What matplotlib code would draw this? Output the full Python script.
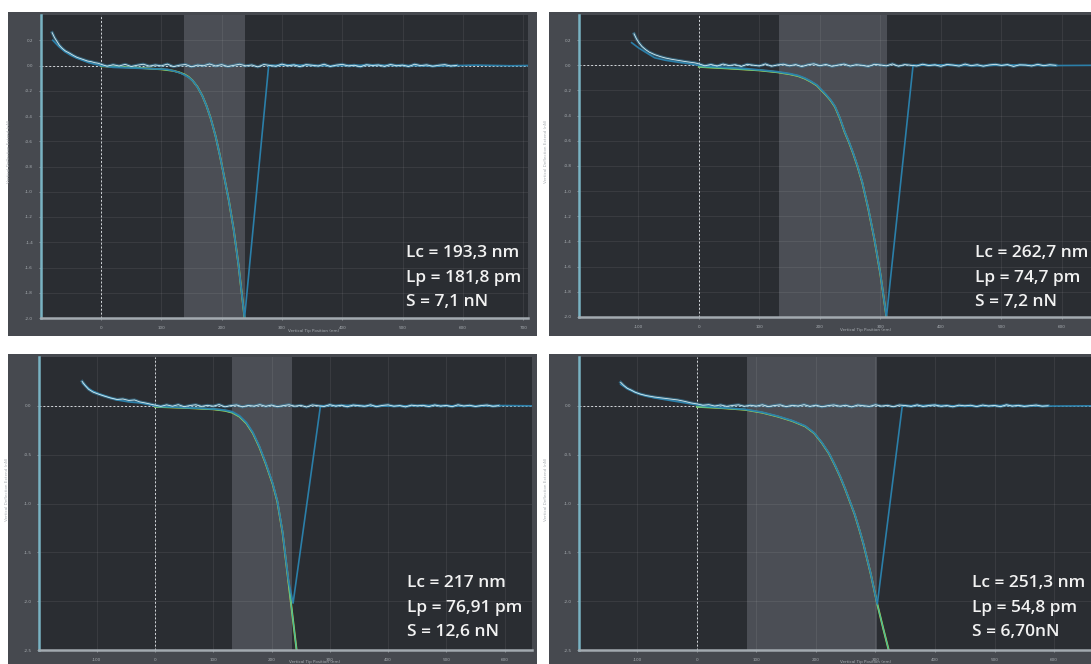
import numpy as np
import matplotlib.pyplot as plt
from matplotlib.patches import Rectangle

# 图像尺寸 (像素)
W, H = 1091, 664

# ---------------- 数据 ----------------
# 左上
app1_x = [-81, -77, -73, -69, -64, -59, -53, -46, -40, -34, -28, -22, -16, -10, -5] + list(range(0, 600, 10))
app1_y = [0.26, 0.22, 0.19, 0.16, 0.135, 0.115, 0.10, 0.08, 0.065, 0.055, 0.045, 0.035, 0.03, 0.022, 0.018,
          0.010, -0.006, 0.006, -0.004, 0.009, -0.008, 0.002, 0.010, -0.005, 0.004,
          -0.003, 0.011, -0.009, 0.002, 0.008, -0.010, 0.003, -0.002, 0.012, -0.004,
          0.007, -0.008, 0.001, 0.010, -0.003, 0.004, -0.011, 0.008, 0.000, -0.006,
          0.011, -0.002, 0.005, -0.009, 0.007, 0.002, -0.004, 0.010, -0.008, 0.003,
          0.009, -0.003, 0.002, -0.010, 0.006, 0.000, 0.004, -0.007, 0.008, -0.002,
          0.003, -0.008, 0.010, -0.001, 0.005, -0.006, 0.002, 0.007, -0.004, 0.001]
ret1_x = [-80, -70, -60, -50, -40, -30, -20, -10, 0, 20, 50, 80, 110, 122, 132, 140, 147, 154, 161, 168, 175, 182, 190, 197,
          205, 212, 220, 228, 238,
          278, 320, 380, 440, 500, 560, 620, 680, 708]
ret1_y = [0.2, 0.15, 0.11, 0.08, 0.058, 0.04, 0.022, 0.01, 0.0, -0.015, -0.02, -0.025, -0.03, -0.045, -0.06, -0.08, -0.1,
          -0.13, -0.18, -0.24, -0.32, -0.42, -0.56, -0.71, -0.9, -1.07, -1.3, -1.58, -2.0,
          0.0, 0.004, -0.003, 0.003, 0.0, -0.004, 0.003, -0.002, 0.0]
fit1_x = [0, 50, 100, 120, 130, 138, 145, 152, 160, 168, 175, 182, 190, 197, 205, 212, 220, 228, 238]
fit1_y = [-0.005, -0.015, -0.03, -0.042, -0.055, -0.07, -0.09, -0.12, -0.17, -0.24, -0.32, -0.42, -0.56, -0.71, -0.9, -1.07,
          -1.3, -1.58, -2.0]

# 右上
app2_x = [-107, -103, -99, -94, -88, -82, -73, -64, -55, -45, -35, -25, -15, -7] + list(range(0, 600, 10))
app2_y = [0.25, 0.21, 0.18, 0.15, 0.125, 0.105, 0.085, 0.07, 0.058, 0.048, 0.04, 0.032, 0.025, 0.02,
          0.012, -0.004, 0.007, -0.006, 0.010, -0.002, 0.005, -0.009, 0.008, 0.001,
          -0.005, 0.011, -0.007, 0.003, 0.009, -0.004, 0.006, -0.010, 0.004, 0.012,
          -0.003, 0.007, -0.008, 0.002, 0.010, -0.006, 0.005, 0.000, -0.009, 0.008,
          0.003, -0.004, 0.011, -0.007, 0.006, 0.001, -0.005, 0.009, -0.002, 0.004,
          -0.008, 0.007, 0.002, -0.006, 0.010, -0.003, 0.005, -0.007, 0.003, 0.008,
          -0.001, 0.006, -0.009, 0.004, 0.002, -0.005, 0.008, -0.003, 0.005, 0.000]
ret2_x = [-111, -100, -90, -73, -55, -35, -15, 0, 30, 76, 110, 130, 150, 164, 175, 185, 195, 203, 210, 218, 225, 233, 241,
          248, 255, 262, 270, 280, 290, 300, 310,
          354, 400, 460, 520, 580, 648]
ret2_y = [0.18, 0.14, 0.11, 0.06, 0.04, 0.025, 0.012, 0.0, -0.012, -0.025, -0.04, -0.05, -0.065, -0.08, -0.1, -0.125, -0.155,
          -0.195, -0.23, -0.275, -0.325, -0.415, -0.525, -0.605, -0.695, -0.795, -0.925, -1.135, -1.375, -1.655, -2.0,
          0.0, 0.004, -0.003, 0.003, -0.002, 0.0]
fit2_x = [0, 50, 100, 130, 150, 164, 175, 185, 195, 203, 210, 218, 225, 233, 241, 248, 255, 262, 270, 280, 290, 300, 310]
fit2_y = [-0.012, -0.025, -0.04, -0.055, -0.07, -0.085, -0.105, -0.13, -0.16, -0.2, -0.235, -0.28, -0.33, -0.42, -0.53,
          -0.61, -0.7, -0.8, -0.93, -1.14, -1.38, -1.66, -2.0]

# 左下
app3_x = [-125, -120, -114, -106, -97, -87, -76, -65, -55, -45, -35, -26, -17, -8] + list(range(0, 600, 10))
app3_y = [0.25, 0.21, 0.17, 0.14, 0.12, 0.10, 0.08, 0.065, 0.07, 0.055, 0.06, 0.04, 0.03, 0.018,
          0.008, -0.006, 0.010, -0.004, 0.012, -0.009, 0.003, 0.011, -0.006, 0.005,
          -0.004, 0.013, -0.010, 0.002, 0.009, -0.011, 0.004, -0.003, 0.012, -0.005,
          0.008, -0.009, 0.002, 0.011, -0.004, 0.005, -0.012, 0.009, 0.001, -0.007,
          0.012, -0.003, 0.006, -0.010, 0.008, 0.002, -0.005, 0.011, -0.009, 0.004,
          0.010, -0.004, 0.003, -0.011, 0.007, 0.000, 0.005, -0.008, 0.009, -0.003,
          0.004, -0.009, 0.011, -0.002, 0.006, -0.007, 0.003, 0.008, -0.005, 0.002]
ret3_x = [-124, -110, -95, -80, -65, -45, -26, -10, 0, 40, 80, 110, 122, 133, 145, 157, 168, 179, 190, 202, 210, 219, 229, 237,
          284, 330, 400, 470, 540, 600, 647]
ret3_y = [0.23, 0.16, 0.12, 0.09, 0.06, 0.04, 0.03, 0.012, 0.0, -0.015, -0.025, -0.035, -0.045, -0.06, -0.1, -0.17, -0.27,
          -0.41, -0.58, -0.79, -0.97, -1.29, -1.78, -2.02,
          0.0, 0.005, -0.004, 0.004, -0.003, 0.003, 0.0]
fit3_x = [0, 50, 100, 120, 133, 145, 157, 168, 179, 190, 202, 210, 219, 231, 243]
fit3_y = [-0.01, -0.02, -0.035, -0.05, -0.07, -0.11, -0.18, -0.28, -0.42, -0.59, -0.8, -0.98, -1.3, -1.9, -2.5]

# 右下
app4_x = [-128, -123, -117, -110, -104, -95, -85, -71, -58, -45, -32, -20, -10] + list(range(0, 600, 10))
app4_y = [0.24, 0.21, 0.18, 0.16, 0.14, 0.12, 0.105, 0.09, 0.08, 0.07, 0.06, 0.045, 0.03,
          0.020, 0.006, 0.012, -0.002, 0.009, -0.006, 0.004, 0.010, -0.005, 0.006,
          -0.003, 0.011, -0.008, 0.003, 0.010, -0.009, 0.005, -0.002, 0.012, -0.006,
          0.007, -0.010, 0.002, 0.009, -0.004, 0.006, -0.011, 0.008, 0.001, -0.006,
          0.011, -0.003, 0.005, -0.009, 0.008, 0.003, -0.006, 0.010, -0.007, 0.004,
          0.009, -0.005, 0.003, -0.010, 0.007, 0.000, 0.006, -0.008, 0.008, -0.002,
          0.004, -0.009, 0.011, -0.003, 0.005, -0.006, 0.002, 0.008, -0.004, 0.001]
ret4_x = [-128, -115, -100, -85, -70, -50, -30, -10, 0, 35, 81, 110, 136, 160, 182, 197, 210, 222, 232, 241, 249, 257, 265,
          273, 280, 292, 303,
          345, 400, 460, 520, 580, 662]
ret4_y = [0.22, 0.17, 0.13, 0.10, 0.08, 0.06, 0.04, 0.02, 0.01, -0.015, -0.035, -0.065, -0.105, -0.15, -0.205, -0.275,
          -0.375, -0.485, -0.605, -0.725, -0.845, -0.975, -1.105, -1.265, -1.415, -1.715, -2.03,
          0.0, 0.005, -0.004, 0.004, -0.003, 0.0]
fit4_x = [0, 35, 81, 110, 136, 160, 182, 197, 210, 222, 232, 241, 249, 257, 265, 273, 280, 292, 303, 313, 323]
fit4_y = [-0.01, -0.02, -0.04, -0.07, -0.11, -0.155, -0.21, -0.28, -0.38, -0.49, -0.61, -0.73, -0.85, -0.98, -1.11, -1.27,
          -1.42, -1.72, -2.03, -2.28, -2.52]

# 拟合结果
labels1 = ["Lc = 193,3 nm", "Lp = 181,8 pm", "S = 7,1 nN"]
labels2 = ["Lc = 262,7 nm", "Lp = 74,7 pm", "S = 7,2 nN"]
labels3 = ["Lc = 217 nm", "Lp = 76,91 pm", "S = 12,6 nN"]
labels4 = ["Lc = 251,3 nm", "Lp = 54,8 pm", "S = 6,70nN"]

# 阴影区 (nm)
span1 = (138, 239)
span2 = (132, 311)
span3 = (132, 235)
span4 = (84, 302)

yticks_a = [0.2, 0.0, -0.2, -0.4, -0.6, -0.8, -1.0, -1.2, -1.4, -1.6, -1.8, -2.0]
yticks_b = [0.0, -0.5, -1.0, -1.5, -2.0, -2.5]

# ---------------- 绘图 ----------------
fig = plt.figure(figsize=(W / 100, H / 100), dpi=100, facecolor='white')


def box(l, t, r, b):
    return [l / W, 1 - b / H, (r - l) / W, (b - t) / H]


def panel(frame, area, xlim, ylim, xticks, yticks, span, app, ret, fit, labels, text_xy):
    # 外框
    l, t, r, b = frame
    fig.add_artist(Rectangle((l / W, 1 - b / H), (r - l) / W, (b - t) / H,
                             transform=fig.transFigure, facecolor='#46494f', edgecolor='none', zorder=0))
    ax = fig.add_axes(box(*area), facecolor='#2a2d32')
    ax.set_zorder(1)
    ax.axvspan(span[0], span[1], color='#4b4e55', zorder=0.2, lw=0)
    ax.grid(True, color='white', alpha=0.07, lw=0.7)
    ax.set_axisbelow(True)
    ax.axhline(0, color='#d4d8dc', lw=0.7, ls=(0, (2, 2)), zorder=1)
    ax.axvline(0, color='#d4d8dc', lw=0.7, ls=(0, (2, 2)), zorder=1)

    # 曲线
    ax.plot(fit[0], fit[1], color='#b9cc48', lw=1.4, zorder=2)
    ax.plot(fit[0], fit[1], color='#43bd9a', lw=0.9, zorder=2.1)
    ax.plot(ret[0], ret[1], color='#2b7fa9', lw=1.2, zorder=2.2)
    ax.plot(app[0], app[1], color='#3d8fb5', lw=2.2, alpha=0.55, zorder=3)
    ax.plot(app[0], app[1], color='#d6ecf2', lw=0.6, zorder=3.1)

    ax.set_xlim(*xlim)
    ax.set_ylim(*ylim)
    ax.set_xticks(xticks)
    ax.set_yticks(yticks)
    ax.set_xticklabels([str(v) for v in xticks])
    ax.set_yticklabels([f'{v:.1f}' for v in yticks])
    ax.tick_params(colors='#a8adb2', labelsize=3, length=1.5, width=0.5, pad=4)
    for s in ['top', 'right']:
        ax.spines[s].set_visible(False)
    ax.spines['left'].set_color('#79b3c3')
    ax.spines['left'].set_linewidth(1.8)
    ax.spines['bottom'].set_color('#a3aab0')
    ax.spines['bottom'].set_linewidth(1.8)
    ax.set_xlabel('Vertical Tip Position (nm)', fontsize=3, color='#a8adb2')
    ax.xaxis.set_label_coords(0.56, -0.035)
    ax.set_ylabel('Vertical Deflection Extend (nN)', fontsize=3, color='#a8adb2')
    ax.yaxis.set_label_coords(-0.06, 0.55)

    tx, ty = text_xy
    for i, s in enumerate(labels):
        fig.text(tx / W, 1 - (ty + 24.5 * i) / H, s, color='#f2f2f2', fontsize=12.5, fontweight='semibold',
                 family=['Open Sans', 'DejaVu Sans'], va='center', ha='left', zorder=5)
    return ax


panel((8, 12, 537, 336), (40.7, 15, 528, 318), (-100, 708), (-2.0, 0.40), list(range(0, 800, 100)), yticks_a,
      span1, (app1_x, app1_y), (ret1_x, ret1_y), (fit1_x, fit1_y), labels1, (406, 253))
panel((549, 12, 1091, 336), (579, 15, 1091, 317), (-198, 648), (-2.0, 0.40), list(range(-100, 700, 100)), yticks_a,
      span2, (app2_x, app2_y), (ret2_x, ret2_y), (fit2_x, fit2_y), labels2, (975, 253))
panel((8, 354, 537, 664), (39, 357, 532, 650), (-199, 647), (-2.5, 0.5), list(range(-100, 700, 100)), yticks_b,
      span3, (app3_x, app3_y), (ret3_x, ret3_y), (fit3_x, fit3_y), labels3, (407, 583))
panel((549, 354, 1091, 664), (579, 357, 1091, 650), (-198, 662), (-2.5, 0.5), list(range(-100, 700, 100)), yticks_b,
      span4, (app4_x, app4_y), (ret4_x, ret4_y), (fit4_x, fit4_y), labels4, (972, 583))

plt.savefig('out.png', dpi=100)
